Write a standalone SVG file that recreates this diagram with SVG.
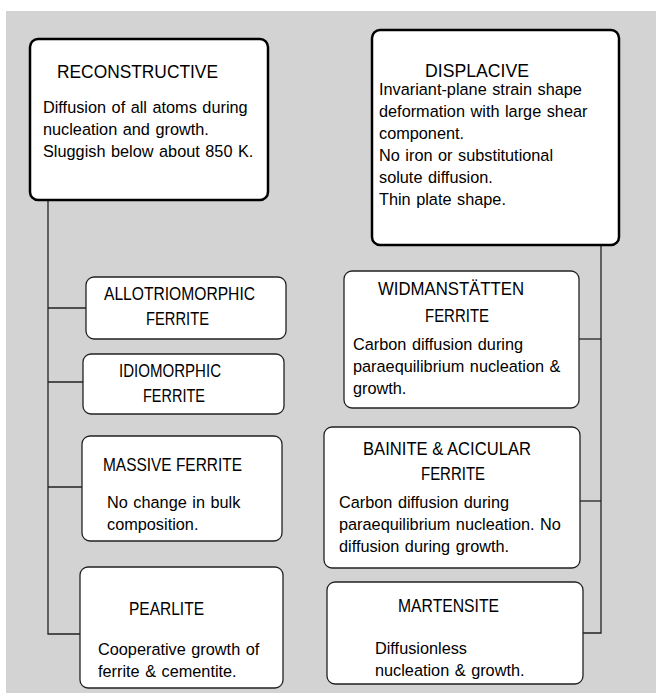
<svg xmlns="http://www.w3.org/2000/svg" width="656" height="693" viewBox="0 0 656 693">
<style>
.big{fill:#fff;stroke:#000;stroke-width:2.5}
.sm{fill:#fff;stroke:#222;stroke-width:1.3}
.ln{fill:none;stroke:#222;stroke-width:1.3}
text{font-family:"Liberation Sans",Arial,sans-serif;fill:#000}
.t{font-size:19px}
.ts{font-size:18.5px}
.b{font-size:16.3px;word-spacing:1px}
</style>
<rect x="0" y="0" width="656" height="693" fill="#fff"/>
<rect x="6" y="11" width="650" height="682" fill="#d3d3d3"/>
<g id="connectors">
<polyline class="ln" points="48,200 48,634 80,634"/>
<line class="ln" x1="48" y1="308" x2="86" y2="308"/>
<line class="ln" x1="48" y1="382" x2="83" y2="382"/>
<line class="ln" x1="48" y1="487" x2="82" y2="487"/>
<polyline class="ln" points="601,245 601,633 583,633"/>
<line class="ln" x1="579" y1="339" x2="601" y2="339"/>
<line class="ln" x1="580" y1="501" x2="601" y2="501"/>
</g>
<g id="reconstructive">
<rect class="big" x="30" y="39" width="238" height="161" rx="8"/>
<text class="t" x="57" y="78" textLength="161" lengthAdjust="spacingAndGlyphs">RECONSTRUCTIVE</text>
<text class="b" x="43" y="113">Diffusion of all atoms during</text>
<text class="b" x="43" y="135">nucleation and growth.</text>
<text class="b" x="43" y="157">Sluggish below about 850 K.</text>
</g>
<g id="displacive">
<rect class="big" x="372" y="30" width="247" height="215" rx="8"/>
<text class="t" x="425" y="77" textLength="104" lengthAdjust="spacingAndGlyphs">DISPLACIVE</text>
<text class="b" x="379" y="95">Invariant-plane strain shape</text>
<text class="b" x="379" y="117">deformation with large shear</text>
<text class="b" x="379" y="139">component.</text>
<text class="b" x="379" y="161">No iron or substitutional</text>
<text class="b" x="379" y="183">solute diffusion.</text>
<text class="b" x="379" y="205">Thin plate shape.</text>
</g>
<g id="allotriomorphic">
<rect class="sm" x="86" y="277" width="200" height="62" rx="8"/>
<text class="ts" x="104" y="300" textLength="151" lengthAdjust="spacingAndGlyphs">ALLOTRIOMORPHIC</text>
<text class="ts" x="146" y="325" textLength="63" lengthAdjust="spacingAndGlyphs">FERRITE</text>
</g>
<g id="idiomorphic">
<rect class="sm" x="83" y="354" width="201" height="60" rx="8"/>
<text class="ts" x="119" y="377" textLength="102" lengthAdjust="spacingAndGlyphs">IDIOMORPHIC</text>
<text class="ts" x="143" y="402" textLength="62" lengthAdjust="spacingAndGlyphs">FERRITE</text>
</g>
<g id="massive">
<rect class="sm" x="82" y="436" width="200" height="105" rx="8"/>
<text class="ts" x="103" y="471" textLength="139" lengthAdjust="spacingAndGlyphs">MASSIVE FERRITE</text>
<text class="b" x="107" y="508">No change in bulk</text>
<text class="b" x="107" y="530">composition.</text>
</g>
<g id="pearlite">
<rect class="sm" x="80" y="567" width="203" height="121" rx="8"/>
<text class="ts" x="129" y="615" textLength="75" lengthAdjust="spacingAndGlyphs">PEARLITE</text>
<text class="b" x="98" y="655">Cooperative growth of</text>
<text class="b" x="98" y="677">ferrite &amp; cementite.</text>
</g>
<g id="widmanstatten">
<rect class="sm" x="344" y="271" width="235" height="137" rx="8"/>
<text class="ts" x="378" y="295" textLength="146" lengthAdjust="spacingAndGlyphs">WIDMANSTÄTTEN</text>
<text class="ts" x="425" y="322" textLength="64" lengthAdjust="spacingAndGlyphs">FERRITE</text>
<text class="b" x="353" y="350">Carbon diffusion during</text>
<text class="b" x="353" y="372">paraequilibrium nucleation &amp;</text>
<text class="b" x="353" y="394">growth.</text>
</g>
<g id="bainite">
<rect class="sm" x="324" y="427" width="256" height="141" rx="8"/>
<text class="ts" x="363" y="455" textLength="168" lengthAdjust="spacingAndGlyphs">BAINITE &amp; ACICULAR</text>
<text class="ts" x="421" y="480" textLength="64" lengthAdjust="spacingAndGlyphs">FERRITE</text>
<text class="b" x="339" y="508">Carbon diffusion during</text>
<text class="b" x="339" y="530">paraequilibrium nucleation. No</text>
<text class="b" x="339" y="552">diffusion during growth.</text>
</g>
<g id="martensite">
<rect class="sm" x="327" y="582" width="256" height="102" rx="8"/>
<text class="ts" x="398" y="612" textLength="101" lengthAdjust="spacingAndGlyphs">MARTENSITE</text>
<text class="b" x="375" y="654">Diffusionless</text>
<text class="b" x="375" y="676">nucleation &amp; growth.</text>
</g>
</svg>
